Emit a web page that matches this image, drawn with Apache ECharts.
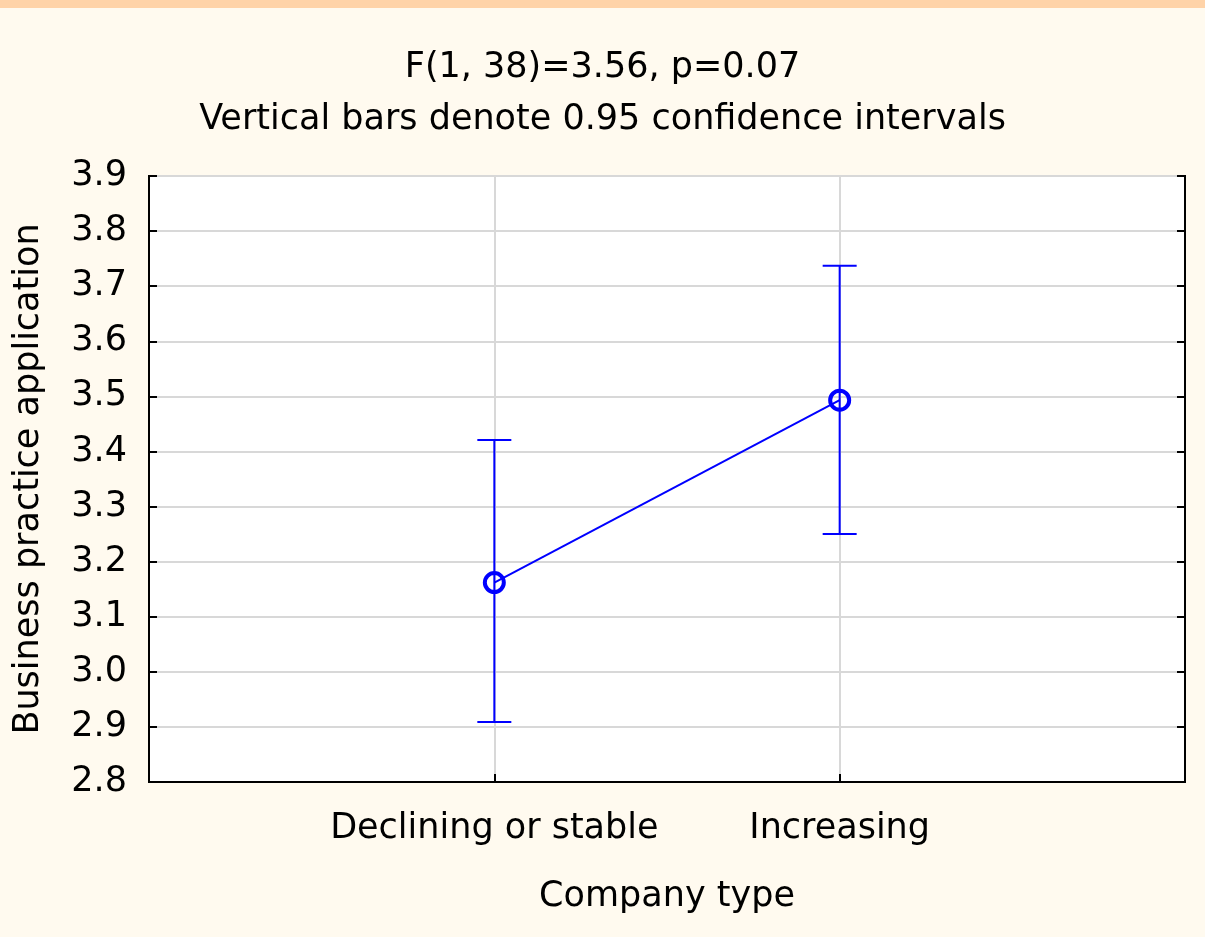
<!DOCTYPE html>
<html>
<head>
<meta charset="utf-8">
<script src="https://cdn.jsdelivr.net/npm/echarts@6/dist/echarts.min.js"></script>
<style>
html,body{margin:0;padding:0;background:#FFFAEF;}
#c{width:1205px;height:937px;}
</style>
</head>
<body>
<div id="c"></div>
<script>
const categories = ['Declining or stable', 'Increasing'];
const categoryPos = [1, 2];
const means = [3.162, 3.493];
const lower = [2.909, 3.250];
const upper = [3.421, 3.737];
const titleLines = ['F(1, 38)=3.56, p=0.07', 'Vertical bars denote 0.95 confidence intervals'];
const yName = 'Business practice application';
const xName = 'Company type';

const FONT = 'DejaVu Sans';
const FS = 35;
const BLUE = '#0000FF';

const chart = echarts.init(document.getElementById('c'));
chart.setOption({
  backgroundColor: '#FFFAEF',
  animation: false,
  graphic: [
    { type: 'rect', left: 0, top: 0, shape: { width: 1205, height: 8 }, style: { fill: '#FFD3A8' }, silent: true }
  ],
  title: [
    { text: titleLines[0], left: 'center', top: 45, textStyle: { fontFamily: FONT, fontSize: FS, fontWeight: 'normal', color: '#000' } },
    { text: titleLines[1], left: 'center', top: 97, textStyle: { fontFamily: FONT, fontSize: FS, fontWeight: 'normal', color: '#000' } }
  ],
  grid: {
    left: 149, right: 20, top: 176, bottom: 155,
    show: true, backgroundColor: '#FFFFFF', borderColor: '#000', borderWidth: 2
  },
  xAxis: [{
    type: 'value', min: 0, max: 3, interval: 1,
    name: xName, nameLocation: 'middle', nameGap: 97,
    nameTextStyle: { fontFamily: FONT, fontSize: FS, color: '#000' },
    axisLine: { show: true, lineStyle: { color: '#000', width: 2 } },
    axisTick: { show: true, inside: true, length: 8, lineStyle: { color: '#000', width: 2 } },
    axisLabel: {
      margin: 29, fontFamily: FONT, fontSize: FS, color: '#000',
      formatter: v => { const i = categoryPos.indexOf(v); return i >= 0 ? categories[i] : ''; }
    },
    splitLine: { show: true, lineStyle: { color: '#D8D8D8', width: 2 } }
  }],
  yAxis: [{
    type: 'value', min: 2.8, max: 3.9, interval: 0.1,
    name: yName, nameLocation: 'middle', nameGap: 103,
    nameTextStyle: { fontFamily: FONT, fontSize: FS, color: '#000' },
    axisLine: { show: true, lineStyle: { color: '#000', width: 2 } },
    axisTick: { show: true, inside: true, length: 8, lineStyle: { color: '#000', width: 2 } },
    axisLabel: { margin: 22, fontFamily: FONT, fontSize: FS, color: '#000', formatter: v => v.toFixed(1) },
    splitLine: { show: true, lineStyle: { color: '#D8D8D8', width: 2 } }
  }, {
    type: 'value', min: 2.8, max: 3.9, interval: 0.1, position: 'right',
    axisLine: { show: true, lineStyle: { color: '#000', width: 2 } },
    axisTick: { show: true, inside: true, length: 8, lineStyle: { color: '#000', width: 2 } },
    axisLabel: { show: false },
    splitLine: { show: false }
  }],
  series: [
    {
      type: 'custom',
      renderItem: function (params, api) {
        const x = api.value(0);
        const lo = api.coord([x, api.value(1)]);
        const hi = api.coord([x, api.value(2)]);
        const hw = 17;
        const st = { stroke: BLUE, lineWidth: 2 };
        return {
          type: 'group',
          children: [
            { type: 'line', shape: { x1: lo[0], y1: lo[1], x2: hi[0], y2: hi[1] }, style: st },
            { type: 'line', shape: { x1: lo[0] - hw, y1: lo[1], x2: lo[0] + hw, y2: lo[1] }, style: st },
            { type: 'line', shape: { x1: hi[0] - hw, y1: hi[1], x2: hi[0] + hw, y2: hi[1] }, style: st }
          ]
        };
      },
      data: categoryPos.map((p, i) => [p, lower[i], upper[i]]),
      z: 2
    },
    {
      type: 'line',
      data: categoryPos.map((p, i) => [p, means[i]]),
      symbol: 'circle', symbolSize: 19,
      lineStyle: { color: BLUE, width: 2 },
      itemStyle: { color: 'rgba(0,0,0,0)', borderColor: BLUE, borderWidth: 4 },
      z: 3
    }
  ]
});
</script>
</body>
</html>
